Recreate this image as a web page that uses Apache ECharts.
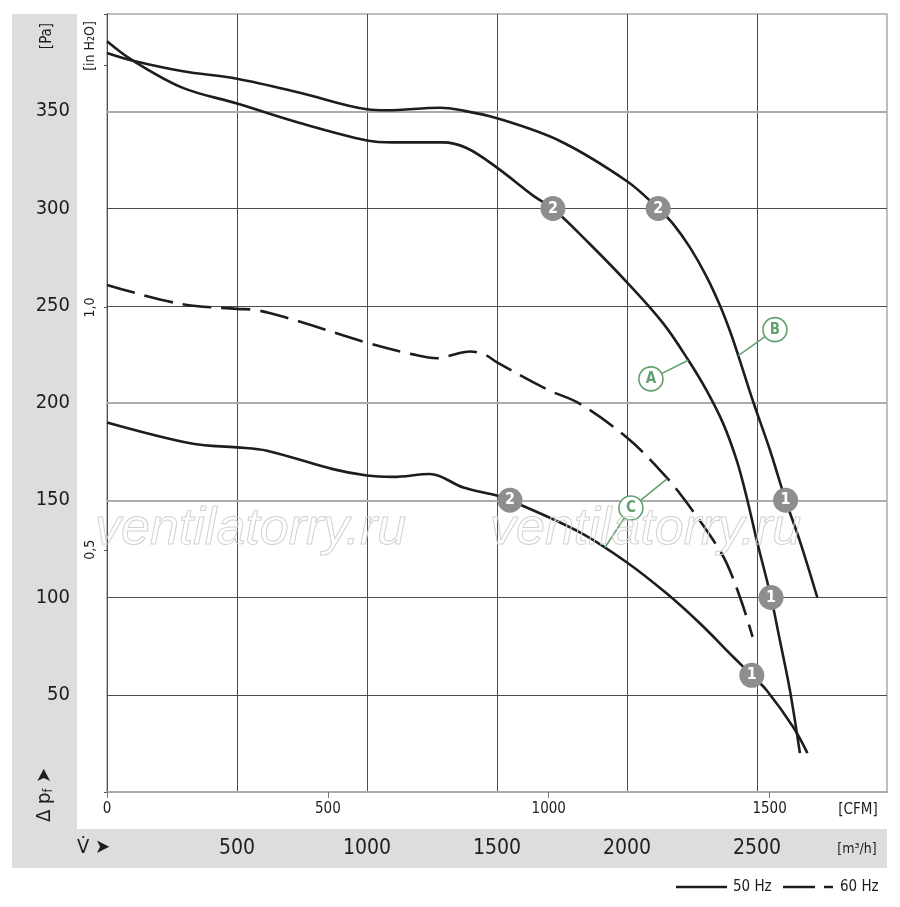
<!DOCTYPE html>
<html>
<head>
<meta charset="utf-8">
<title>Kennlinie</title>
<script src="https://cdn.jsdelivr.net/npm/echarts/dist/echarts.min.js"></script>
<style>
html, body { margin: 0; padding: 0; background: #fff; }
#main { width: 900px; height: 907px; }
</style>
</head>
<body>
<div id="main"></div>
<script>
// flow in m3/h, pressure in Pa
var curveA = [[0, 386], [100, 376], [292, 362], [500, 354], [742, 344], [1000, 335], [1100, 334], [1290, 334],
    [1385, 331], [1500, 321], [1640, 306.5], [1715, 300], [1858, 281.6], [2000, 262],
    [2140, 240.8], [2236, 222], [2306, 206.5], [2370, 189.4], [2422, 170.5], [2460, 151.7], [2499, 129.4],
    [2554, 100], [2588, 78], [2627, 52], [2665, 20]];
var curveB = [[0, 380], [100, 376], [292, 370.6], [500, 366.7], [742, 359.5], [1000, 351], [1077, 350.5],
    [1281, 351.8], [1358, 350.6], [1500, 346.4], [1742, 334.7], [2000, 314], [2120, 300], [2178, 292],
    [2242, 280], [2306, 265], [2358, 250], [2396, 237], [2428, 224.4], [2486, 200.4], [2550, 175.7],
    [2610, 150], [2665, 129], [2732, 100]];
var curveC60 = [[0, 260.7], [281, 251], [500, 248.4], [562, 248], [692, 243.8], [1000, 231], [1177, 225],
    [1269, 223], [1308, 224], [1396, 226.5], [1454, 224.8], [1500, 220.9], [1692, 207], [1819, 199.6],
    [2004, 181.7], [2139, 163.7], [2215, 151.4], [2332, 129.4], [2384, 117.4], [2441, 97.7], [2483, 79.7]];
var curveC50 = [[0, 190], [331, 179], [500, 177.2], [615, 175.5], [869, 166], [1000, 162.7], [1100, 162],
    [1242, 163.5], [1371, 156.5], [1499, 152.4], [1550, 150], [1819, 133.5], [2000, 118],
    [2153, 102], [2281, 86.6], [2409, 69.4], [2480, 60], [2537, 52.3], [2639, 33.4], [2694, 20]];

// operating points: [m3/h, Pa, number]
var opPoints = [[1715, 300, '2'], [2120, 300, '2'], [2610, 150, '1'], [2554, 100, '1'],
    [1550, 150, '2'], [2480, 60, '1']];

// curve tags: circle position and where the leader lines touch the curves
var tags = [
    { name: 'A', at: [2092, 212.4], to: [[2236, 222]] },
    { name: 'B', at: [2569, 237.7], to: [[2428, 224.4]] },
    { name: 'C', at: [2015, 146], to: [[2154, 161], [1915, 125.7]] }
];

var lightGridPa = [150, 200, 350];
var M3H_PER_CFM = 1.699;
var PA_PER_INH2O = 249.09;
var flowMax = 3000;
var paMax = 400;

var FONT = "'DejaVu Sans Condensed', 'Liberation Sans', sans-serif";
var INK = '#1d1d1d';
var GRID_DARK = '#4d4d4d';
var GRID_LIGHT = '#ababab';
var BAND = '#dcdddf';
var GREEN = '#63a171';

var myChart = echarts.init(document.getElementById('main'));

var series = [];

function curve(data, dashed) {
    return {
        type: 'line',
        data: data,
        smooth: 0.35,
        symbol: 'none',
        silent: true,
        z: 3,
        lineStyle: { color: INK, width: 2.6, type: dashed ? [29, 10] : 'solid' }
    };
}

var first = curve(curveA, false);
first.markLine = {
    silent: true,
    symbol: 'none',
    z: 1,
    label: { show: false },
    lineStyle: { color: GRID_LIGHT, width: 2, type: 'solid' },
    data: lightGridPa.map(function (v) { return { yAxis: v }; })
};
series.push(first);
series.push(curve(curveB, false));
series.push(curve(curveC60, true));
series.push(curve(curveC50, false));

tags.forEach(function (t) {
    t.to.forEach(function (p) {
        series.push({
            type: 'line',
            data: [t.at, p],
            symbol: 'none',
            silent: true,
            z: 4,
            lineStyle: { color: GREEN, width: 1.6 }
        });
    });
});

series.push({
    type: 'scatter',
    data: tags.map(function (t) { return [t.at[0], t.at[1], t.name]; }),
    symbolSize: 24,
    z: 5,
    silent: true,
    itemStyle: { color: '#fff', borderColor: GREEN, borderWidth: 1.6, opacity: 1 },
    label: {
        show: true, position: 'inside',
        formatter: function (p) { return p.value[2]; },
        color: GREEN, fontWeight: 'bold', fontSize: 15, fontFamily: FONT
    }
});

series.push({
    type: 'scatter',
    data: opPoints,
    symbolSize: 25,
    z: 5,
    silent: true,
    itemStyle: { color: '#8e8e8e', opacity: 1 },
    label: {
        show: true, position: 'inside',
        formatter: function (p) { return p.value[2]; },
        color: '#fff', fontWeight: 'bold', fontSize: 16, fontFamily: FONT
    }
});

var option = {
    animation: false,
    backgroundColor: '#fff',
    grid: {
        left: 107, right: 13, top: 14, bottom: 115,
        containLabel: false,
        outerBoundsMode: 'none',
        show: true,
        borderColor: GRID_LIGHT,
        borderWidth: 1.5
    },
    xAxis: [
        {
            type: 'value', min: 0, max: flowMax, interval: 500,
            position: 'bottom',
            axisLine: { show: true, lineStyle: { color: GRID_LIGHT, width: 2 } },
            axisTick: { show: false },
            splitLine: { show: true, showMinLine: false, showMaxLine: false,
                lineStyle: { color: GRID_DARK, width: 1 } },
            axisLabel: {
                margin: 46, fontSize: 21, color: INK, fontFamily: FONT,
                formatter: function (v) { return (v === 0 || v === flowMax) ? '' : String(v); }
            }
        },
        {
            type: 'value', min: 0, max: flowMax / M3H_PER_CFM, interval: 500,
            position: 'bottom',
            axisLine: { show: false },
            axisTick: { show: true, length: 6, lineStyle: { color: '#777' } },
            splitLine: { show: false },
            axisLabel: {
                margin: 10, fontSize: 15, color: INK, fontFamily: FONT, showMaxLabel: false,
                formatter: function (v) { return String(v); }
            }
        }
    ],
    yAxis: [
        {
            type: 'value', min: 0, max: paMax, interval: 50,
            position: 'left',
            axisLine: { show: true, lineStyle: { color: GRID_DARK, width: 1 } },
            axisTick: { show: false },
            splitLine: { show: true, showMinLine: false, showMaxLine: false,
                lineStyle: { color: GRID_DARK, width: 1 } },
            axisLabel: {
                margin: 37, fontSize: 20, color: INK, fontFamily: FONT,
                formatter: function (v) { return (v === 0 || v === paMax) ? '' : String(v); }
            }
        },
        {
            type: 'value', min: 0, max: paMax / PA_PER_INH2O, interval: 0.5,
            position: 'left',
            axisLine: { show: false },
            axisTick: { show: true, length: 3, lineStyle: { color: '#555' } },
            splitLine: { show: false },
            axisLabel: {
                margin: 10, rotate: 90, fontSize: 14, color: INK, fontFamily: FONT,
                formatter: function (v) {
                    if (v === 0.5 || v === 1) return v.toFixed(1).replace('.', ',');
                    return '';
                }
            }
        }
    ],
    graphic: [
        { type: 'rect', z: -10, silent: true, shape: { x: 12, y: 14, width: 65, height: 815 }, style: { fill: BAND } },
        { type: 'rect', z: -10, silent: true, shape: { x: 12, y: 829, width: 875, height: 39 }, style: { fill: BAND } },
        { type: 'text', x: 47, y: 36, rotation: Math.PI / 2, silent: true,
            style: { text: '[Pa]', font: '15px ' + FONT, fill: INK, align: 'center', verticalAlign: 'middle' } },
        { type: 'text', x: 45, y: 795, rotation: Math.PI / 2, silent: true,
            style: {
                text: 'Δ p{s|f} ➤', font: '20px ' + FONT, fill: INK, align: 'center', verticalAlign: 'middle',
                rich: { s: { fontSize: 12, fontFamily: FONT, fill: INK, padding: [8, 0, 0, 0] } }
            } },
        { type: 'text', x: 90, y: 46, rotation: Math.PI / 2, silent: true,
            style: { text: '[in H₂O]', font: '14px ' + FONT, fill: INK, align: 'center', verticalAlign: 'middle' } },
        { type: 'text', x: 77, y: 848, silent: true,
            style: { text: 'V̇ ➤', font: '20px ' + FONT, fill: INK, align: 'left', verticalAlign: 'middle' } },
        { type: 'text', x: 858, y: 810, silent: true,
            style: { text: '[CFM]', font: '15px ' + FONT, fill: INK, align: 'center', verticalAlign: 'middle' } },
        { type: 'text', x: 857, y: 849, silent: true,
            style: { text: '[m³/h]', font: '14px ' + FONT, fill: INK, align: 'center', verticalAlign: 'middle' } },
        { type: 'line', silent: true, shape: { x1: 676, y1: 887, x2: 727, y2: 887 },
            style: { stroke: INK, lineWidth: 2.6 } },
        { type: 'text', x: 733, y: 887, silent: true,
            style: { text: '50 Hz', font: '15px ' + FONT, fill: INK, align: 'left', verticalAlign: 'middle' } },
        { type: 'line', silent: true, shape: { x1: 783, y1: 887, x2: 833, y2: 887 },
            style: { stroke: INK, lineWidth: 2.6, lineDash: [32, 9] } },
        { type: 'text', x: 840, y: 887, silent: true,
            style: { text: '60 Hz', font: '15px ' + FONT, fill: INK, align: 'left', verticalAlign: 'middle' } },
        { type: 'text', x: 95, y: 530, z: 20, silent: true,
            style: { text: 'ventilatorry.ru', font: 'italic 52px Liberation Sans, sans-serif',
                fill: 'rgba(255,255,255,0)', stroke: '#d2d2d2', lineWidth: 1, align: 'left', verticalAlign: 'middle' } },
        { type: 'text', x: 490, y: 530, z: 20, silent: true,
            style: { text: 'ventilatorry.ru', font: 'italic 52px Liberation Sans, sans-serif',
                fill: 'rgba(255,255,255,0)', stroke: '#d2d2d2', lineWidth: 1, align: 'left', verticalAlign: 'middle' } }
    ],
    series: series.map(function (s) {
        s.xAxisIndex = 0;
        s.yAxisIndex = 0;
        return s;
    })
};

myChart.setOption(option);
</script>
</body>
</html>
